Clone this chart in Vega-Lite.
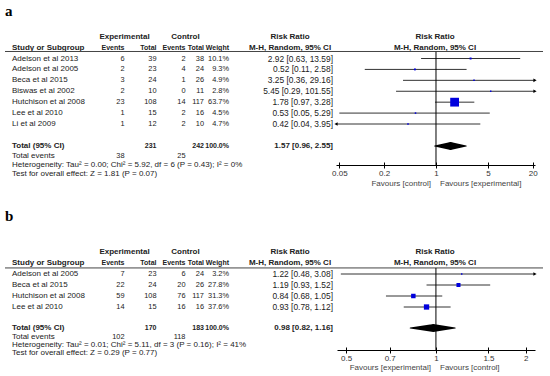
{
  "$schema": "https://vega.github.io/schema/vega-lite/v6.json",
  "width": 550,
  "height": 376,
  "autosize": "none",
  "padding": 0,
  "background": "white",
  "config": {"view": {"stroke": null}},
  "datasets": {
    "tbl": [
      {"line": 0, "col": -1, "t": "a", "kind": "panel"},
      {"line": 1, "col": 1, "t": "Experimental", "kind": "hc"},
      {"line": 1, "col": 3, "t": "Control", "kind": "hc"},
      {"line": 1, "col": 6, "t": "Risk Ratio", "kind": "hc"},
      {"line": 1, "col": 9, "t": "Risk Ratio", "kind": "hc"},
      {"line": 2, "col": 0, "t": "Study or Subgroup", "kind": "hl"},
      {"line": 2, "col": 1, "t": "Events", "kind": "hr"},
      {"line": 2, "col": 2, "t": "Total", "kind": "hr"},
      {"line": 2, "col": 3, "t": "Events", "kind": "hr"},
      {"line": 2, "col": 4, "t": "Total", "kind": "hr"},
      {"line": 2, "col": 5, "t": "Weight", "kind": "hr"},
      {"line": 2, "col": 6, "t": "M-H, Random, 95% CI", "kind": "hc"},
      {"line": 2, "col": 9, "t": "M-H, Random, 95% CI", "kind": "hc"},
      {"line": 3, "col": 0, "t": "Adelson et al  2013", "kind": "row"},
      {"line": 3, "col": 1, "t": "6", "kind": "row"},
      {"line": 3, "col": 2, "t": "39", "kind": "row"},
      {"line": 3, "col": 3, "t": "2", "kind": "row"},
      {"line": 3, "col": 4, "t": "38", "kind": "row"},
      {"line": 3, "col": 5, "t": "10.1%", "kind": "row"},
      {"line": 3, "col": 7, "t": "2.92 [0.63, 13.59]", "kind": "row"},
      {"line": 4, "col": 0, "t": "Adelson et al 2005", "kind": "row"},
      {"line": 4, "col": 1, "t": "2", "kind": "row"},
      {"line": 4, "col": 2, "t": "23", "kind": "row"},
      {"line": 4, "col": 3, "t": "4", "kind": "row"},
      {"line": 4, "col": 4, "t": "24", "kind": "row"},
      {"line": 4, "col": 5, "t": "9.3%", "kind": "row"},
      {"line": 4, "col": 7, "t": "0.52 [0.11, 2.58]", "kind": "row"},
      {"line": 5, "col": 0, "t": "Beca et al  2015", "kind": "row"},
      {"line": 5, "col": 1, "t": "3", "kind": "row"},
      {"line": 5, "col": 2, "t": "24", "kind": "row"},
      {"line": 5, "col": 3, "t": "1", "kind": "row"},
      {"line": 5, "col": 4, "t": "26", "kind": "row"},
      {"line": 5, "col": 5, "t": "4.9%", "kind": "row"},
      {"line": 5, "col": 7, "t": "3.25 [0.36, 29.16]", "kind": "row"},
      {"line": 6, "col": 0, "t": "Biswas et al 2002", "kind": "row"},
      {"line": 6, "col": 1, "t": "2", "kind": "row"},
      {"line": 6, "col": 2, "t": "10", "kind": "row"},
      {"line": 6, "col": 3, "t": "0", "kind": "row"},
      {"line": 6, "col": 4, "t": "11", "kind": "row"},
      {"line": 6, "col": 5, "t": "2.8%", "kind": "row"},
      {"line": 6, "col": 7, "t": "5.45 [0.29, 101.55]", "kind": "row"},
      {"line": 7, "col": 0, "t": "Hutchison et al 2008", "kind": "row"},
      {"line": 7, "col": 1, "t": "23", "kind": "row"},
      {"line": 7, "col": 2, "t": "108", "kind": "row"},
      {"line": 7, "col": 3, "t": "14", "kind": "row"},
      {"line": 7, "col": 4, "t": "117", "kind": "row"},
      {"line": 7, "col": 5, "t": "63.7%", "kind": "row"},
      {"line": 7, "col": 7, "t": "1.78 [0.97, 3.28]", "kind": "row"},
      {"line": 8, "col": 0, "t": "Lee et al 2010", "kind": "row"},
      {"line": 8, "col": 1, "t": "1", "kind": "row"},
      {"line": 8, "col": 2, "t": "15", "kind": "row"},
      {"line": 8, "col": 3, "t": "2", "kind": "row"},
      {"line": 8, "col": 4, "t": "16", "kind": "row"},
      {"line": 8, "col": 5, "t": "4.5%", "kind": "row"},
      {"line": 8, "col": 7, "t": "0.53 [0.05, 5.29]", "kind": "row"},
      {"line": 9, "col": 0, "t": "Li et al 2009", "kind": "row"},
      {"line": 9, "col": 1, "t": "1", "kind": "row"},
      {"line": 9, "col": 2, "t": "12", "kind": "row"},
      {"line": 9, "col": 3, "t": "2", "kind": "row"},
      {"line": 9, "col": 4, "t": "10", "kind": "row"},
      {"line": 9, "col": 5, "t": "4.7%", "kind": "row"},
      {"line": 9, "col": 7, "t": "0.42 [0.04, 3.95]", "kind": "row"},
      {"line": 10, "col": 0, "t": "Total (95% CI)", "kind": "tot"},
      {"line": 10, "col": 2, "t": "231", "kind": "tot"},
      {"line": 10, "col": 4, "t": "242", "kind": "tot"},
      {"line": 10, "col": 5, "t": "100.0%", "kind": "tot"},
      {"line": 10, "col": 7, "t": "1.57 [0.96, 2.55]", "kind": "tot"},
      {"line": 11, "col": 0, "t": "Total events", "kind": "row"},
      {"line": 11, "col": 1, "t": "38", "kind": "row"},
      {"line": 11, "col": 3, "t": "25", "kind": "row"},
      {"line": 12, "col": 0, "t": "Heterogeneity: Tau² = 0.00; Chi² = 5.92, df = 6 (P = 0.43); I² = 0%", "kind": "row"},
      {"line": 13, "col": 0, "t": "Test for overall effect: Z = 1.81 (P = 0.07)", "kind": "row"},
      {"line": 14, "col": 8, "t": "Favours [control]", "kind": "fav"},
      {"line": 14, "col": 10, "t": "Favours [experimental]", "kind": "fav"},
      {"line": 15, "col": -1, "t": "b", "kind": "panel"},
      {"line": 16, "col": 1, "t": "Experimental", "kind": "hc"},
      {"line": 16, "col": 3, "t": "Control", "kind": "hc"},
      {"line": 16, "col": 6, "t": "Risk Ratio", "kind": "hc"},
      {"line": 16, "col": 9, "t": "Risk Ratio", "kind": "hc"},
      {"line": 17, "col": 0, "t": "Study or Subgroup", "kind": "hl"},
      {"line": 17, "col": 1, "t": "Events", "kind": "hr"},
      {"line": 17, "col": 2, "t": "Total", "kind": "hr"},
      {"line": 17, "col": 3, "t": "Events", "kind": "hr"},
      {"line": 17, "col": 4, "t": "Total", "kind": "hr"},
      {"line": 17, "col": 5, "t": "Weight", "kind": "hr"},
      {"line": 17, "col": 6, "t": "M-H, Random, 95% CI", "kind": "hc"},
      {"line": 17, "col": 9, "t": "M-H, Random, 95% CI", "kind": "hc"},
      {"line": 18, "col": 0, "t": "Adelson et al 2005", "kind": "row"},
      {"line": 18, "col": 1, "t": "7", "kind": "row"},
      {"line": 18, "col": 2, "t": "23", "kind": "row"},
      {"line": 18, "col": 3, "t": "6", "kind": "row"},
      {"line": 18, "col": 4, "t": "24", "kind": "row"},
      {"line": 18, "col": 5, "t": "3.2%", "kind": "row"},
      {"line": 18, "col": 7, "t": "1.22 [0.48, 3.08]", "kind": "row"},
      {"line": 19, "col": 0, "t": "Beca et al  2015", "kind": "row"},
      {"line": 19, "col": 1, "t": "22", "kind": "row"},
      {"line": 19, "col": 2, "t": "24", "kind": "row"},
      {"line": 19, "col": 3, "t": "20", "kind": "row"},
      {"line": 19, "col": 4, "t": "26", "kind": "row"},
      {"line": 19, "col": 5, "t": "27.8%", "kind": "row"},
      {"line": 19, "col": 7, "t": "1.19 [0.93, 1.52]", "kind": "row"},
      {"line": 20, "col": 0, "t": "Hutchison et al 2008", "kind": "row"},
      {"line": 20, "col": 1, "t": "59", "kind": "row"},
      {"line": 20, "col": 2, "t": "108", "kind": "row"},
      {"line": 20, "col": 3, "t": "76", "kind": "row"},
      {"line": 20, "col": 4, "t": "117", "kind": "row"},
      {"line": 20, "col": 5, "t": "31.3%", "kind": "row"},
      {"line": 20, "col": 7, "t": "0.84 [0.68, 1.05]", "kind": "row"},
      {"line": 21, "col": 0, "t": "Lee et al 2010", "kind": "row"},
      {"line": 21, "col": 1, "t": "14", "kind": "row"},
      {"line": 21, "col": 2, "t": "15", "kind": "row"},
      {"line": 21, "col": 3, "t": "16", "kind": "row"},
      {"line": 21, "col": 4, "t": "16", "kind": "row"},
      {"line": 21, "col": 5, "t": "37.6%", "kind": "row"},
      {"line": 21, "col": 7, "t": "0.93 [0.78, 1.12]", "kind": "row"},
      {"line": 22, "col": 0, "t": "Total (95% CI)", "kind": "tot"},
      {"line": 22, "col": 2, "t": "170", "kind": "tot"},
      {"line": 22, "col": 4, "t": "183", "kind": "tot"},
      {"line": 22, "col": 5, "t": "100.0%", "kind": "tot"},
      {"line": 22, "col": 7, "t": "0.98 [0.82, 1.16]", "kind": "tot"},
      {"line": 23, "col": 0, "t": "Total events", "kind": "row"},
      {"line": 23, "col": 1, "t": "102", "kind": "row"},
      {"line": 23, "col": 3, "t": "118", "kind": "row"},
      {"line": 24, "col": 0, "t": "Heterogeneity: Tau² = 0.01; Chi² = 5.11, df = 3 (P = 0.16); I² = 41%", "kind": "row"},
      {"line": 25, "col": 0, "t": "Test for overall effect: Z = 0.29 (P = 0.77)", "kind": "row"},
      {"line": 26, "col": 8, "t": "Favours [experimental]", "kind": "fav"},
      {"line": 26, "col": 10, "t": "Favours [control]", "kind": "fav"}
    ],
    "fa": [
      {"line": 3, "rr": 2.92, "lo": 0.63, "hi": 13.59, "w": 10.1},
      {"line": 4, "rr": 0.52, "lo": 0.11, "hi": 2.58, "w": 9.3},
      {"line": 5, "rr": 3.25, "lo": 0.36, "hi": 29.16, "w": 4.9},
      {"line": 6, "rr": 5.45, "lo": 0.29, "hi": 101.55, "w": 2.8},
      {"line": 7, "rr": 1.78, "lo": 0.97, "hi": 3.28, "w": 63.7},
      {"line": 8, "rr": 0.53, "lo": 0.05, "hi": 5.29, "w": 4.5},
      {"line": 9, "rr": 0.42, "lo": 0.04, "hi": 3.95, "w": 4.7}
    ],
    "fb": [
      {"line": 18, "rr": 1.22, "lo": 0.48, "hi": 3.08, "w": 3.2},
      {"line": 19, "rr": 1.19, "lo": 0.93, "hi": 1.52, "w": 27.8},
      {"line": 20, "rr": 0.84, "lo": 0.68, "hi": 1.05, "w": 31.3},
      {"line": 21, "rr": 0.93, "lo": 0.78, "hi": 1.12, "w": 37.6}
    ],
    "da": [
      {"line": 10, "v": 0.96, "k": 0},
      {"line": 10, "v": 1.57, "k": 1},
      {"line": 10, "v": 2.55, "k": 2}
    ],
    "db": [
      {"line": 22, "v": 0.82, "k": 0},
      {"line": 22, "v": 0.98, "k": 1},
      {"line": 22, "v": 1.16, "k": 2}
    ]
  },
  "resolve": {"scale": {"x": "independent", "size": "independent"}, "axis": {"x": "independent"}},
  "layer": [
    {
      "data": {"name": "tbl"},
      "transform": [{"filter": "datum.kind == 'row' && datum.col <= 0"}],
      "mark": {"type": "text", "align": "left", "baseline": "middle", "font": "Liberation Sans", "fontSize": 8, "color": "#222"},
      "encoding": {
        "x": {"field": "col", "type": "quantitative", "axis": null, "scale": {"domain": [-1,0,1,2,3,4,5,6,7,8,9,10,11], "range": [5,12,124.5,156.5,185.5,204,229,290,333,431,435,440,543], "nice": false, "zero": false}},
        "y": {"field": "line", "type": "quantitative", "axis": null, "scale": {"domain": [0,1,2,3,9,10,11,12,13,14,15,16,17,18,21,22,23,24,25,26], "range": [11,37,48,58.5,124,146,156,165,174,184,216,252,263,274,307,328,337,345,353,368], "nice": false, "zero": false}},
        "text": {"field": "t"}
      }
    },
    {
      "data": {"name": "tbl"},
      "transform": [{"filter": "datum.kind == 'row' && datum.col > 0 && datum.col < 7"}],
      "mark": {"type": "text", "align": "right", "baseline": "middle", "font": "Liberation Sans", "fontSize": 7.4, "color": "#222"},
      "encoding": {
        "x": {"field": "col", "type": "quantitative", "axis": null, "scale": {"domain": [-1,0,1,2,3,4,5,6,7,8,9,10,11], "range": [5,12,124.5,156.5,185.5,204,229,290,333,431,435,440,543], "nice": false, "zero": false}},
        "y": {"field": "line", "type": "quantitative", "axis": null, "scale": {"domain": [0,1,2,3,9,10,11,12,13,14,15,16,17,18,21,22,23,24,25,26], "range": [11,37,48,58.5,124,146,156,165,174,184,216,252,263,274,307,328,337,345,353,368], "nice": false, "zero": false}},
        "text": {"field": "t"}
      }
    },
    {
      "data": {"name": "tbl"},
      "transform": [{"filter": "datum.kind == 'row' && datum.col == 7"}],
      "mark": {"type": "text", "align": "right", "baseline": "middle", "font": "Liberation Sans", "fontSize": 8.4, "color": "#222"},
      "encoding": {
        "x": {"field": "col", "type": "quantitative", "axis": null, "scale": {"domain": [-1,0,1,2,3,4,5,6,7,8,9,10,11], "range": [5,12,124.5,156.5,185.5,204,229,290,333,431,435,440,543], "nice": false, "zero": false}},
        "y": {"field": "line", "type": "quantitative", "axis": null, "scale": {"domain": [0,1,2,3,9,10,11,12,13,14,15,16,17,18,21,22,23,24,25,26], "range": [11,37,48,58.5,124,146,156,165,174,184,216,252,263,274,307,328,337,345,353,368], "nice": false, "zero": false}},
        "text": {"field": "t"}
      }
    },
    {
      "data": {"name": "tbl"},
      "transform": [{"filter": "(datum.kind == 'hl' || datum.kind == 'tot') && datum.col <= 0"}],
      "mark": {"type": "text", "align": "left", "baseline": "middle", "font": "Liberation Sans", "fontSize": 8, "fontWeight": "bold", "color": "#222"},
      "encoding": {
        "x": {"field": "col", "type": "quantitative", "axis": null, "scale": {"domain": [-1,0,1,2,3,4,5,6,7,8,9,10,11], "range": [5,12,124.5,156.5,185.5,204,229,290,333,431,435,440,543], "nice": false, "zero": false}},
        "y": {"field": "line", "type": "quantitative", "axis": null, "scale": {"domain": [0,1,2,3,9,10,11,12,13,14,15,16,17,18,21,22,23,24,25,26], "range": [11,37,48,58.5,124,146,156,165,174,184,216,252,263,274,307,328,337,345,353,368], "nice": false, "zero": false}},
        "text": {"field": "t"}
      }
    },
    {
      "data": {"name": "tbl"},
      "transform": [{"filter": "(datum.kind == 'hr' || datum.kind == 'tot') && datum.col > 0 && datum.col < 7"}],
      "mark": {"type": "text", "align": "right", "baseline": "middle", "font": "Liberation Sans", "fontSize": 7, "fontWeight": "bold", "color": "#222"},
      "encoding": {
        "x": {"field": "col", "type": "quantitative", "axis": null, "scale": {"domain": [-1,0,1,2,3,4,5,6,7,8,9,10,11], "range": [5,12,124.5,156.5,185.5,204,229,290,333,431,435,440,543], "nice": false, "zero": false}},
        "y": {"field": "line", "type": "quantitative", "axis": null, "scale": {"domain": [0,1,2,3,9,10,11,12,13,14,15,16,17,18,21,22,23,24,25,26], "range": [11,37,48,58.5,124,146,156,165,174,184,216,252,263,274,307,328,337,345,353,368], "nice": false, "zero": false}},
        "text": {"field": "t"}
      }
    },
    {
      "data": {"name": "tbl"},
      "transform": [{"filter": "datum.kind == 'tot' && datum.col == 7"}],
      "mark": {"type": "text", "align": "right", "baseline": "middle", "font": "Liberation Sans", "fontSize": 8, "fontWeight": "bold", "color": "#222"},
      "encoding": {
        "x": {"field": "col", "type": "quantitative", "axis": null, "scale": {"domain": [-1,0,1,2,3,4,5,6,7,8,9,10,11], "range": [5,12,124.5,156.5,185.5,204,229,290,333,431,435,440,543], "nice": false, "zero": false}},
        "y": {"field": "line", "type": "quantitative", "axis": null, "scale": {"domain": [0,1,2,3,9,10,11,12,13,14,15,16,17,18,21,22,23,24,25,26], "range": [11,37,48,58.5,124,146,156,165,174,184,216,252,263,274,307,328,337,345,353,368], "nice": false, "zero": false}},
        "text": {"field": "t"}
      }
    },
    {
      "data": {"name": "tbl"},
      "transform": [{"filter": "datum.kind == 'hc'"}],
      "mark": {"type": "text", "align": "center", "baseline": "middle", "font": "Liberation Sans", "fontSize": 8, "fontWeight": "bold", "color": "#222"},
      "encoding": {
        "x": {"field": "col", "type": "quantitative", "axis": null, "scale": {"domain": [-1,0,1,2,3,4,5,6,7,8,9,10,11], "range": [5,12,124.5,156.5,185.5,204,229,290,333,431,435,440,543], "nice": false, "zero": false}},
        "y": {"field": "line", "type": "quantitative", "axis": null, "scale": {"domain": [0,1,2,3,9,10,11,12,13,14,15,16,17,18,21,22,23,24,25,26], "range": [11,37,48,58.5,124,146,156,165,174,184,216,252,263,274,307,328,337,345,353,368], "nice": false, "zero": false}},
        "text": {"field": "t"}
      }
    },
    {
      "data": {"name": "tbl"},
      "transform": [{"filter": "datum.kind == 'fav' && datum.col == 8"}],
      "mark": {"type": "text", "align": "right", "baseline": "middle", "font": "Liberation Sans", "fontSize": 8, "color": "#444"},
      "encoding": {
        "x": {"field": "col", "type": "quantitative", "axis": null, "scale": {"domain": [-1,0,1,2,3,4,5,6,7,8,9,10,11], "range": [5,12,124.5,156.5,185.5,204,229,290,333,431,435,440,543], "nice": false, "zero": false}},
        "y": {"field": "line", "type": "quantitative", "axis": null, "scale": {"domain": [0,1,2,3,9,10,11,12,13,14,15,16,17,18,21,22,23,24,25,26], "range": [11,37,48,58.5,124,146,156,165,174,184,216,252,263,274,307,328,337,345,353,368], "nice": false, "zero": false}},
        "text": {"field": "t"}
      }
    },
    {
      "data": {"name": "tbl"},
      "transform": [{"filter": "datum.kind == 'fav' && datum.col == 10"}],
      "mark": {"type": "text", "align": "left", "baseline": "middle", "font": "Liberation Sans", "fontSize": 8, "color": "#444"},
      "encoding": {
        "x": {"field": "col", "type": "quantitative", "axis": null, "scale": {"domain": [-1,0,1,2,3,4,5,6,7,8,9,10,11], "range": [5,12,124.5,156.5,185.5,204,229,290,333,431,435,440,543], "nice": false, "zero": false}},
        "y": {"field": "line", "type": "quantitative", "axis": null, "scale": {"domain": [0,1,2,3,9,10,11,12,13,14,15,16,17,18,21,22,23,24,25,26], "range": [11,37,48,58.5,124,146,156,165,174,184,216,252,263,274,307,328,337,345,353,368], "nice": false, "zero": false}},
        "text": {"field": "t"}
      }
    },
    {
      "data": {"name": "tbl"},
      "transform": [{"filter": "datum.kind == 'panel'"}],
      "mark": {"type": "text", "align": "left", "baseline": "middle", "font": "Liberation Serif", "fontSize": 15, "fontWeight": "bold", "color": "#000"},
      "encoding": {
        "x": {"field": "col", "type": "quantitative", "axis": null, "scale": {"domain": [-1,0,1,2,3,4,5,6,7,8,9,10,11], "range": [5,12,124.5,156.5,185.5,204,229,290,333,431,435,440,543], "nice": false, "zero": false}},
        "y": {"field": "line", "type": "quantitative", "axis": null, "scale": {"domain": [0,1,2,3,9,10,11,12,13,14,15,16,17,18,21,22,23,24,25,26], "range": [11,37,48,58.5,124,146,156,165,174,184,216,252,263,274,307,328,337,345,353,368], "nice": false, "zero": false}},
        "text": {"field": "t"}
      }
    },
    {
      "data": {"values": [{}]},
      "mark": {"type": "rule", "color": "#444", "strokeWidth": 1},
      "encoding": {
        "x": {"datum": -1, "type": "quantitative", "axis": null, "scale": {"domain": [-1,0,1,2,3,4,5,6,7,8,9,10,11], "range": [5,12,124.5,156.5,185.5,204,229,290,333,431,435,440,543], "nice": false, "zero": false}},
        "x2": {"datum": 11},
        "y": {"datum": 2.333, "type": "quantitative", "axis": null, "scale": {"domain": [0,1,2,3,9,10,11,12,13,14,15,16,17,18,21,22,23,24,25,26], "range": [11,37,48,58.5,124,146,156,165,174,184,216,252,263,274,307,328,337,345,353,368], "nice": false, "zero": false}}
      }
    },
    {
      "data": {"values": [{}]},
      "mark": {"type": "rule", "color": "#444", "strokeWidth": 1},
      "encoding": {
        "x": {"datum": -1, "type": "quantitative", "axis": null, "scale": {"domain": [-1,0,1,2,3,4,5,6,7,8,9,10,11], "range": [5,12,124.5,156.5,185.5,204,229,290,333,431,435,440,543], "nice": false, "zero": false}},
        "x2": {"datum": 11},
        "y": {"datum": 17.45, "type": "quantitative", "axis": null, "scale": {"domain": [0,1,2,3,9,10,11,12,13,14,15,16,17,18,21,22,23,24,25,26], "range": [11,37,48,58.5,124,146,156,165,174,184,216,252,263,274,307,328,337,345,353,368], "nice": false, "zero": false}}
      }
    },
    {
      "data": {"name": "fa"},
      "mark": {"type": "rule", "color": "#333", "strokeWidth": 1},
      "encoding": {
        "x": {"field": "lo", "type": "quantitative", "scale": {"type": "log", "domain": [0.0451, 21.5], "range": [336, 535], "clamp": true, "nice": false},
          "axis": {"orient": "bottom", "offset": -211, "values": [0.05, 0.2, 1, 5, 20], "format": "~g", "title": null, "grid": false, "domainColor": "#000", "tickColor": "#000", "tickSize": 3, "labelPadding": 1, "labelFont": "Liberation Sans", "labelFontSize": 8, "labelColor": "#333", "labelFlush": false, "labelOverlap": false}},
        "x2": {"field": "hi"},
        "y": {"field": "line", "type": "quantitative", "axis": null, "scale": {"domain": [0,1,2,3,9,10,11,12,13,14,15,16,17,18,21,22,23,24,25,26], "range": [11,37,48,58.5,124,146,156,165,174,184,216,252,263,274,307,328,337,345,353,368], "nice": false, "zero": false}}
      }
    },
    {
      "data": {"name": "fa"},
      "mark": {"type": "point", "shape": "square", "filled": true, "color": "#0000dd", "opacity": 1, "strokeWidth": 0},
      "encoding": {
        "x": {"field": "rr", "type": "quantitative", "axis": null, "scale": {"type": "log", "domain": [0.0451, 21.5], "range": [336, 535], "clamp": true, "nice": false}},
        "y": {"field": "line", "type": "quantitative", "axis": null, "scale": {"domain": [0,1,2,3,9,10,11,12,13,14,15,16,17,18,21,22,23,24,25,26], "range": [11,37,48,58.5,124,146,156,165,174,184,216,252,263,274,307,328,337,345,353,368], "nice": false, "zero": false}},
        "size": {"field": "w", "type": "quantitative", "legend": null, "scale": {"type": "pow", "exponent": 2, "domain": [0, 100], "range": [2, 187]}}
      }
    },
    {
      "data": {"name": "fa"},
      "transform": [{"filter": "datum.hi > 21.5"}],
      "mark": {"type": "point", "shape": "triangle-right", "filled": true, "color": "#000", "opacity": 1, "size": 14, "strokeWidth": 0},
      "encoding": {
        "x": {"field": "hi", "type": "quantitative", "axis": null, "scale": {"type": "log", "domain": [0.0451, 21.5], "range": [336, 535], "clamp": true, "nice": false}},
        "y": {"field": "line", "type": "quantitative", "axis": null, "scale": {"domain": [0,1,2,3,9,10,11,12,13,14,15,16,17,18,21,22,23,24,25,26], "range": [11,37,48,58.5,124,146,156,165,174,184,216,252,263,274,307,328,337,345,353,368], "nice": false, "zero": false}}
      }
    },
    {
      "data": {"name": "fa"},
      "transform": [{"filter": "datum.lo < 0.0451"}],
      "mark": {"type": "point", "shape": "triangle-left", "filled": true, "color": "#000", "opacity": 1, "size": 14, "strokeWidth": 0},
      "encoding": {
        "x": {"field": "lo", "type": "quantitative", "axis": null, "scale": {"type": "log", "domain": [0.0451, 21.5], "range": [336, 535], "clamp": true, "nice": false}},
        "y": {"field": "line", "type": "quantitative", "axis": null, "scale": {"domain": [0,1,2,3,9,10,11,12,13,14,15,16,17,18,21,22,23,24,25,26], "range": [11,37,48,58.5,124,146,156,165,174,184,216,252,263,274,307,328,337,345,353,368], "nice": false, "zero": false}}
      }
    },
    {
      "data": {"name": "da"},
      "mark": {"type": "trail", "color": "#000"},
      "encoding": {
        "x": {"field": "v", "type": "quantitative", "axis": null, "scale": {"type": "log", "domain": [0.0451, 21.5], "range": [336, 535], "clamp": true, "nice": false}},
        "y": {"field": "line", "type": "quantitative", "axis": null, "scale": {"domain": [0,1,2,3,9,10,11,12,13,14,15,16,17,18,21,22,23,24,25,26], "range": [11,37,48,58.5,124,146,156,165,174,184,216,252,263,274,307,328,337,345,353,368], "nice": false, "zero": false}},
        "size": {"field": "k", "type": "quantitative", "legend": null, "scale": {"domain": [0, 1, 2], "range": [0, 8, 0], "zero": false, "nice": false}},
        "order": {"field": "k", "type": "quantitative"}
      }
    },
    {
      "data": {"values": [{}]},
      "mark": {"type": "rule", "color": "#000", "strokeWidth": 1},
      "encoding": {
        "x": {"datum": 1, "type": "quantitative", "scale": {"type": "log", "domain": [0.0451, 21.5], "range": [336, 535], "clamp": true, "nice": false},
          "axis": {"orient": "top", "offset": -165, "values": [0.05, 0.2, 1, 5, 20], "title": null, "grid": false, "domain": false, "labels": false, "tickColor": "#000", "tickSize": 3}},
        "y": {"datum": 2.35, "type": "quantitative", "axis": null, "scale": {"domain": [0,1,2,3,9,10,11,12,13,14,15,16,17,18,21,22,23,24,25,26], "range": [11,37,48,58.5,124,146,156,165,174,184,216,252,263,274,307,328,337,345,353,368], "nice": false, "zero": false}},
        "y2": {"datum": 12}
      }
    },
    {
      "data": {"name": "fb"},
      "mark": {"type": "rule", "color": "#333", "strokeWidth": 1},
      "encoding": {
        "x": {"field": "lo", "type": "quantitative", "scale": {"type": "log", "domain": [0.466, 2.148], "range": [337, 535], "clamp": true, "nice": false},
          "axis": {"orient": "bottom", "offset": -26, "values": [0.5, 0.7, 1, 1.5, 2], "format": "~g", "title": null, "grid": false, "domainColor": "#000", "tickColor": "#000", "tickSize": 3, "labelPadding": 1, "labelFont": "Liberation Sans", "labelFontSize": 8, "labelColor": "#333", "labelFlush": false, "labelOverlap": false}},
        "x2": {"field": "hi"},
        "y": {"field": "line", "type": "quantitative", "axis": null, "scale": {"domain": [0,1,2,3,9,10,11,12,13,14,15,16,17,18,21,22,23,24,25,26], "range": [11,37,48,58.5,124,146,156,165,174,184,216,252,263,274,307,328,337,345,353,368], "nice": false, "zero": false}}
      }
    },
    {
      "data": {"name": "fb"},
      "mark": {"type": "point", "shape": "square", "filled": true, "color": "#0000dd", "opacity": 1, "strokeWidth": 0},
      "encoding": {
        "x": {"field": "rr", "type": "quantitative", "axis": null, "scale": {"type": "log", "domain": [0.466, 2.148], "range": [337, 535], "clamp": true, "nice": false}},
        "y": {"field": "line", "type": "quantitative", "axis": null, "scale": {"domain": [0,1,2,3,9,10,11,12,13,14,15,16,17,18,21,22,23,24,25,26], "range": [11,37,48,58.5,124,146,156,165,174,184,216,252,263,274,307,328,337,345,353,368], "nice": false, "zero": false}},
        "size": {"field": "w", "type": "quantitative", "legend": null, "scale": {"type": "pow", "exponent": 2, "domain": [0, 100], "range": [2, 187]}}
      }
    },
    {
      "data": {"name": "fb"},
      "transform": [{"filter": "datum.hi > 2.148"}],
      "mark": {"type": "point", "shape": "triangle-right", "filled": true, "color": "#000", "opacity": 1, "size": 14, "strokeWidth": 0},
      "encoding": {
        "x": {"field": "hi", "type": "quantitative", "axis": null, "scale": {"type": "log", "domain": [0.466, 2.148], "range": [337, 535], "clamp": true, "nice": false}},
        "y": {"field": "line", "type": "quantitative", "axis": null, "scale": {"domain": [0,1,2,3,9,10,11,12,13,14,15,16,17,18,21,22,23,24,25,26], "range": [11,37,48,58.5,124,146,156,165,174,184,216,252,263,274,307,328,337,345,353,368], "nice": false, "zero": false}}
      }
    },
    {
      "data": {"name": "db"},
      "mark": {"type": "trail", "color": "#000"},
      "encoding": {
        "x": {"field": "v", "type": "quantitative", "axis": null, "scale": {"type": "log", "domain": [0.466, 2.148], "range": [337, 535], "clamp": true, "nice": false}},
        "y": {"field": "line", "type": "quantitative", "axis": null, "scale": {"domain": [0,1,2,3,9,10,11,12,13,14,15,16,17,18,21,22,23,24,25,26], "range": [11,37,48,58.5,124,146,156,165,174,184,216,252,263,274,307,328,337,345,353,368], "nice": false, "zero": false}},
        "size": {"field": "k", "type": "quantitative", "legend": null, "scale": {"domain": [0, 1, 2], "range": [0, 8, 0], "zero": false, "nice": false}},
        "order": {"field": "k", "type": "quantitative"}
      }
    },
    {
      "data": {"values": [{}]},
      "mark": {"type": "rule", "color": "#000", "strokeWidth": 1},
      "encoding": {
        "x": {"datum": 1, "type": "quantitative", "scale": {"type": "log", "domain": [0.466, 2.148], "range": [337, 535], "clamp": true, "nice": false},
          "axis": {"orient": "top", "offset": -350, "values": [0.5, 0.7, 1, 1.5, 2], "title": null, "grid": false, "domain": false, "labels": false, "tickColor": "#000", "tickSize": 3}},
        "y": {"datum": 17.45, "type": "quantitative", "axis": null, "scale": {"domain": [0,1,2,3,9,10,11,12,13,14,15,16,17,18,21,22,23,24,25,26], "range": [11,37,48,58.5,124,146,156,165,174,184,216,252,263,274,307,328,337,345,353,368], "nice": false, "zero": false}},
        "y2": {"datum": 24.625}
      }
    }
  ]
}
